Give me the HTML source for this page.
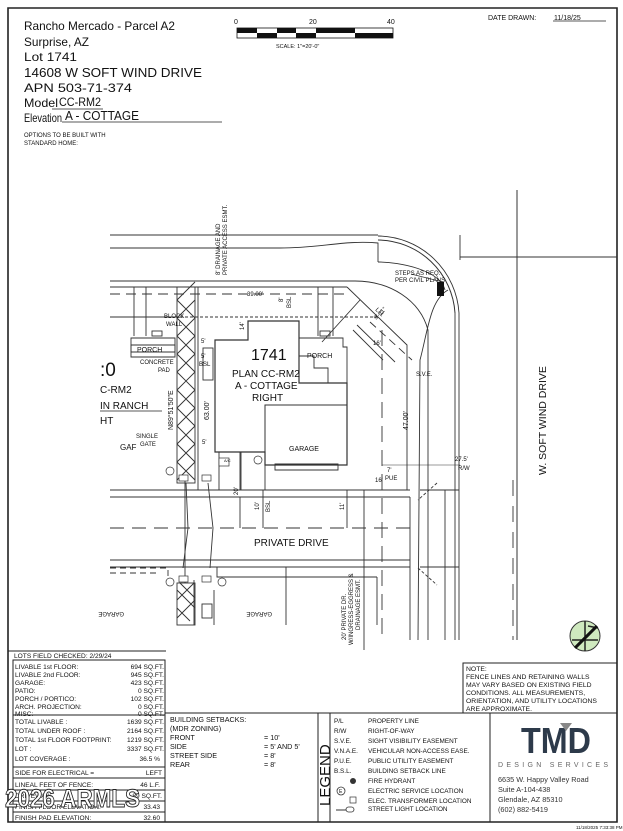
<!DOCTYPE html>
<html><head><meta charset="utf-8"><style>
html,body{margin:0;padding:0;background:#fff}
svg{display:block}
text{font-family:"Liberation Sans",Arial,sans-serif;fill:#111}
</style></head><body>
<svg width="623" height="831" viewBox="0 0 623 831" xmlns="http://www.w3.org/2000/svg">
<rect x="0" y="0" width="623" height="831" fill="#fff"/>
<path d="M8 8 H617 V822 H8 Z" fill="none" stroke="#222" stroke-width="1.6"/>
<g font-size="12">
<text x="24" y="30" textLength="151" lengthAdjust="spacingAndGlyphs">Rancho Mercado - Parcel A2</text>
<text x="24" y="46" textLength="65" lengthAdjust="spacingAndGlyphs">Surprise, AZ</text>
<text x="24" y="61" textLength="53" lengthAdjust="spacingAndGlyphs">Lot  1741</text>
<text x="24" y="77" font-size="13" textLength="178" lengthAdjust="spacingAndGlyphs">14608 W SOFT WIND DRIVE</text>
<text x="24" y="92" textLength="108" lengthAdjust="spacingAndGlyphs">APN    503-71-374</text>
<text x="24" y="107" textLength="34" lengthAdjust="spacingAndGlyphs">Model</text><text x="59" y="106" textLength="42" lengthAdjust="spacingAndGlyphs">CC-RM2</text>
<text x="24" y="122" textLength="38" lengthAdjust="spacingAndGlyphs">Elevation</text><text x="65" y="120" font-size="13" textLength="74" lengthAdjust="spacingAndGlyphs">A - COTTAGE</text>
</g>
<line x1="52" y1="109" x2="103" y2="109" stroke="#222" stroke-width="0.8"/>
<line x1="62" y1="122" x2="222" y2="122" stroke="#222" stroke-width="0.8"/>
<text x="24" y="137" font-size="6">OPTIONS TO BE BUILT WITH</text>
<text x="24" y="145" font-size="6">STANDARD HOME:</text>
<g font-size="7">
<text x="234" y="24">0</text><text x="309" y="24">20</text><text x="387" y="24">40</text>
<text x="276" y="48" font-size="5.5">SCALE: 1"=20'-0"</text>
</g>
<rect x="237" y="28" width="156" height="10" fill="#fff" stroke="#111" stroke-width="0.8"/>
<g fill="#111">
<rect x="237" y="28" width="20" height="5"/><rect x="257" y="33" width="20" height="5"/>
<rect x="277" y="28" width="19" height="5"/><rect x="296" y="33" width="20" height="5"/>
<rect x="316" y="28" width="39" height="5"/><rect x="355" y="33" width="38" height="5"/>
</g>
<text x="488" y="20" font-size="7">DATE DRAWN: </text>
<text x="554" y="20" font-size="7">11/18/25</text>
<line x1="553" y1="21" x2="606" y2="21" stroke="#222" stroke-width="0.7"/>

<g stroke="#333" fill="none" stroke-width="0.9">
<line x1="110" y1="235" x2="378" y2="235"/>
<path d="M378 240 A78 78 0 0 1 455 313" stroke-width="1"/>
<path d="M378 236 A82 82 0 0 1 459 313"/>
<line x1="459" y1="313" x2="459" y2="640"/>
<line x1="455" y1="313" x2="455" y2="640"/>
<line x1="460" y1="235" x2="460" y2="260"/>
<line x1="460" y1="257" x2="617" y2="257"/>
<line x1="517" y1="190" x2="517" y2="640" stroke-width="1"/>
<line x1="513" y1="480" x2="513" y2="640" stroke-dasharray="16 10"/>
<path d="M110 248 H280 C320 248 345 240 378 243 V262"/>
<path d="M110 281 H355 C390 281 420 300 428 330 L428 640" />
<path d="M378 262 C400 262 440 270 445 290"/>
<path d="M448 290 C430 300 428 330 420 360 L418 640"/>
<line x1="110" y1="287" x2="347" y2="287"/>
<line x1="110" y1="294" x2="350" y2="294" stroke-dasharray="10 6"/>
<line x1="110" y1="317" x2="380" y2="317" stroke-dasharray="3 2"/>
<path d="M347 287 L407 345 L407 490"/>
<line x1="382" y1="330" x2="382" y2="640" stroke-dasharray="16 8"/>
<line x1="370" y1="322" x2="412" y2="360" stroke-dasharray="8 5"/>
<line x1="353" y1="330" x2="383" y2="360"/>
<line x1="357" y1="325" x2="395" y2="362"/>
<line x1="322" y1="342" x2="360" y2="300"/>
<path d="M215 340 H248 V321 H299 V338 H299 V383 H347 V465 H265 V452 H215 Z" stroke-width="1.2"/>
<rect x="265" y="405" width="82" height="60" stroke-width="1"/>
<path d="M299 338 H343 V347 H347 V383 H328 V368 H314 V356 H299 Z"/>
<path d="M275 464 H338 V470 H275 Z"/>
<rect x="240" y="452" width="25" height="38"/>
<rect x="219" y="452" width="22" height="38"/>
<path d="M131 338 H175 V352 H131 Z"/><path d="M131 345 H175 V357 H131 Z"/>
<path d="M134 287 V336 M146 287 V336 M318 287 V336 M333 287 V336"/>
<rect x="152" y="331" width="10" height="5"/>
<rect x="320" y="331" width="10" height="5"/>
<path d="M110 317 H175"/>
<rect x="177" y="287" width="18" height="196"/>
<path d="M177 300 L195 318 M177 318 L195 336 M177 336 L195 354 M177 354 L195 372 M177 372 L195 390 M177 390 L195 408 M177 408 L195 426 M177 426 L195 444 M177 444 L195 462 M177 462 L195 480 M177 300 L195 282 M177 318 L195 300 M177 336 L195 318 M177 354 L195 336 M177 372 L195 354 M177 390 L195 372 M177 408 L195 390 M177 426 L195 408 M177 444 L195 426 M177 462 L195 444 M177 480 L195 462"/>
<rect x="177" y="583" width="18" height="42"/>
<path d="M177 590 L195 608 M177 608 L190 621 M180 583 L195 598 M177 600 L194 583 M177 618 L195 600"/>
<line x1="198" y1="287" x2="198" y2="490"/>
<rect x="203" y="348" width="10" height="32"/>
<line x1="110" y1="490" x2="410" y2="490" stroke-width="1"/>
<line x1="110" y1="497" x2="410" y2="497"/>
<line x1="110" y1="528" x2="410" y2="528" stroke-dasharray="14 8" stroke-width="1.1"/>
<line x1="110" y1="560" x2="410" y2="560"/>
<line x1="110" y1="567" x2="410" y2="567"/>
<path d="M110 568 H168 V577 M110 573 H160" stroke-dasharray="6 4"/>
<path d="M217 567 V577 H286 V567"/>
<path d="M286 577 V625 M377 577 H377 V625 M286 577 H377"/>
<line x1="194" y1="580" x2="194" y2="625"/>
<line x1="214" y1="590" x2="214" y2="625"/>
<rect x="202" y="604" width="10" height="14"/>
<line x1="185" y1="480" x2="185" y2="583"/>
<path d="M186 483 L188 528 L183 568 M208 483 L213 528 L210 568"/>
<line x1="240" y1="497" x2="240" y2="528"/>
<line x1="263" y1="490" x2="263" y2="528"/>
<line x1="347" y1="490" x2="347" y2="528"/>
<line x1="364" y1="490" x2="364" y2="650"/>
<line x1="410" y1="497" x2="410" y2="640"/>
<line x1="445" y1="490" x2="445" y2="640"/>
<line x1="459" y1="490" x2="420" y2="490"/>
<line x1="420" y1="567" x2="459" y2="567"/>
<line x1="418" y1="568" x2="437" y2="585" stroke-dasharray="3 2"/>
<line x1="437" y1="483" x2="418" y2="500" stroke-dasharray="3 2"/>
<line x1="411" y1="274" x2="443" y2="282"/>
<line x1="382" y1="465" x2="460" y2="465" stroke-width="0.6"/>
</g>
<rect x="437" y="282" width="7" height="14" fill="#111"/>
<g stroke="#333" fill="#fff" stroke-width="0.7">
<rect x="179" y="475" width="9" height="6"/><rect x="202" y="475" width="9" height="6"/>
<rect x="179" y="576" width="9" height="6"/><rect x="202" y="576" width="9" height="6"/>
<circle cx="170" cy="471" r="4"/><circle cx="258" cy="460" r="4"/>
<circle cx="170" cy="582" r="4"/><circle cx="222" cy="582" r="4"/>
<rect x="219" y="458" width="10" height="8"/>
</g>
<g font-size="6">
<text x="164" y="318">BLOCK</text><text x="166" y="326">WALL</text>
<text x="140" y="364">CONCRETE</text><text x="158" y="372">PAD</text>
<text x="136" y="438">SINGLE</text><text x="140" y="446">GATE</text>
<text x="395" y="275">STEPS AS REQ.</text><text x="395" y="282">PER CIVIL PLANS</text>
<text x="416" y="376">S.V.E.</text>
<text x="247" y="296">39.00'</text>
<text x="201" y="343">5'</text><text x="201" y="358">5'</text>
<text x="199" y="366">BSL</text>
<text x="202" y="444">5'</text>
<text x="373" y="345">16'</text>
<text x="375" y="482">16'</text>
<text x="387" y="472">7'</text><text x="385" y="480">PUE</text>
<text x="455" y="461">27.5'</text><text x="458" y="470">R/W</text>
<text x="224" y="462" font-size="4">A/C</text>
</g>
<g font-size="6">
<text transform="translate(220,275) rotate(-90)">8' DRAINAGE AND</text>
<text transform="translate(227,275) rotate(-90)">PRIVATE ACCESS ESMT.</text>
<text transform="translate(291,308) rotate(-90)">BSL</text>
<text transform="translate(283,302) rotate(-90)">8'</text>
<text transform="translate(244,330) rotate(-90)">14'</text>
<text transform="translate(209,420) rotate(-90)" font-size="7">63.00'</text>
<text transform="translate(173,430) rotate(-90)" font-size="7">N89°51'50"E</text>
<text transform="translate(408,430) rotate(-90)" font-size="7">47.00'</text>
<text transform="translate(238,495) rotate(-90)">20'</text>
<text transform="translate(259,510) rotate(-90)">10'</text>
<text transform="translate(270,512) rotate(-90)">BSL</text>
<text transform="translate(344,510) rotate(-90)">11'</text>
<text transform="translate(346,640) rotate(-90)">20' PRIVATE DR.</text>
<text transform="translate(353,645) rotate(-90)">W/INGRESS-EGGRESS &amp;</text>
<text transform="translate(360,630) rotate(-90)">DRAINAGE ESMT.</text>
<text transform="translate(376,320) rotate(-45)">9'-11"</text>
<text transform="translate(375,310) rotate(45)">L11</text>
<text transform="translate(124,612) rotate(180)">GARAGE</text>
<text transform="translate(272,612) rotate(180)">GARAGE</text>
</g>
<text x="251" y="360" font-family="Liberation Serif,serif" font-size="16">1741</text>
<text x="232" y="377" font-size="10">PLAN CC-RM2</text>
<text x="235" y="389" font-size="10">A - COTTAGE</text>
<text x="252" y="401" font-size="10">RIGHT</text>
<text x="289" y="451" font-size="7">GARAGE</text>
<text x="307" y="358" font-size="7">PORCH</text>
<text x="137" y="352" font-size="7">PORCH</text>
<text x="254" y="546" font-size="10">PRIVATE DRIVE</text>
<text x="100" y="376" font-size="19">:0</text>
<text x="100" y="393" font-size="10">C-RM2</text>
<text x="100" y="409" font-size="10">IN RANCH</text>
<line x1="100" y1="411" x2="162" y2="411" stroke="#222" stroke-width="0.8"/>
<text x="100" y="424" font-size="10">HT</text>
<text x="120" y="450" font-size="8">GAF</text>
<text transform="translate(546,475) rotate(-90)" font-size="10.5">W. SOFT WIND DRIVE</text>
<circle cx="585" cy="636" r="15" fill="#cfe9bf" stroke="#333" stroke-width="1"/>
<path d="M575 647 L596 626 M588 626 L598 628 M572 640 L598 640 M585 621 V651" stroke="#222" stroke-width="1.5" fill="none"/>
<path d="M575 648 L597 626" stroke="#111" stroke-width="3"/>

<g stroke="#222" fill="none" stroke-width="1">
<line x1="8" y1="651" x2="166" y2="651"/>
<rect x="13" y="660" width="152" height="55"/>
<rect x="13" y="715" width="152" height="52"/>
<rect x="13" y="767" width="152" height="11"/>
<rect x="13" y="778" width="152" height="34"/>
<line x1="13" y1="790" x2="165" y2="790"/><line x1="13" y1="801" x2="165" y2="801"/>
<rect x="13" y="812" width="152" height="10"/>
<rect x="165" y="713" width="153" height="109"/>
<rect x="318" y="713" width="172" height="109"/>
<line x1="330" y1="713" x2="330" y2="822"/>
<rect x="490" y="713" width="127" height="109"/>
<rect x="463" y="663" width="154" height="50"/>
</g>
<g font-size="6.6">
<text x="14" y="658">LOTS FIELD CHECKED:  2/29/24</text>
<text x="15" y="669">LIVABLE 1st FLOOR:</text><text x="164" y="669" text-anchor="end">694  SQ.FT.</text>
<text x="15" y="677">LIVABLE 2nd FLOOR:</text><text x="164" y="677" text-anchor="end">945  SQ.FT.</text>
<text x="15" y="685">GARAGE:</text><text x="164" y="685" text-anchor="end">423  SQ.FT.</text>
<text x="15" y="693">PATIO:</text><text x="164" y="693" text-anchor="end">0  SQ.FT.</text>
<text x="15" y="701">PORCH  /  PORTICO:</text><text x="164" y="701" text-anchor="end">102  SQ.FT.</text>
<text x="15" y="709">ARCH.  PROJECTION:</text><text x="164" y="709" text-anchor="end">0  SQ.FT.</text>
<text x="15" y="716">MISC:</text><text x="164" y="716" text-anchor="end">0  SQ.FT.</text>
<text x="15" y="724">TOTAL  LIVABLE  :</text><text x="164" y="724" text-anchor="end">1639  SQ.FT.</text>
<text x="15" y="733">TOTAL  UNDER  ROOF  :</text><text x="164" y="733" text-anchor="end">2164  SQ.FT.</text>
<text x="15" y="742">TOTAL  1st  FLOOR  FOOTPRINT:</text><text x="164" y="742" text-anchor="end">1219  SQ.FT.</text>
<text x="15" y="751">LOT  :</text><text x="164" y="751" text-anchor="end">3337  SQ.FT.</text>
<text x="15" y="761">LOT  COVERAGE  :</text><text x="160" y="761" text-anchor="end">36.5  %</text>
<text x="15" y="775">SIDE  FOR  ELECTRICAL  =</text><text x="162" y="775" text-anchor="end">LEFT</text>
<text x="15" y="787">LINEAL  FEET  OF  FENCE:</text><text x="160" y="787" text-anchor="end">46  L.F.</text>
<text x="15" y="798">DRIVEWAY:</text><text x="162" y="798" text-anchor="end">89  SQ.FT.</text>
<text x="15" y="809">FINISH  FLOOR  ELEVATION:</text><text x="160" y="809" text-anchor="end">33.43</text>
<text x="15" y="820">FINISH  PAD  ELEVATION:</text><text x="160" y="820" text-anchor="end">32.60</text>
</g>
<text x="5" y="807" font-size="25" font-weight="bold" stroke="#222" stroke-width="0.9" style="fill:#fff" textLength="135" lengthAdjust="spacingAndGlyphs">2026 ARMLS</text>
<g font-size="7.2">
<text x="170" y="722">BUILDING SETBACKS:</text>
<text x="170" y="731">(MDR ZONING)</text>
<text x="170" y="740">FRONT</text><text x="264" y="740">= 10'</text>
<text x="170" y="749">SIDE</text><text x="264" y="749">= 5' AND 5'</text>
<text x="170" y="758">STREET SIDE</text><text x="264" y="758">= 8'</text>
<text x="170" y="767">REAR</text><text x="264" y="767">= 8'</text>
</g>
<text transform="translate(330,806) rotate(-90)" font-size="15">LEGEND</text>
<g font-size="6.4">
<text x="334" y="723">P/L</text><text x="368" y="723">PROPERTY LINE</text>
<text x="334" y="733">R/W</text><text x="368" y="733">RIGHT-OF-WAY</text>
<text x="334" y="743">S.V.E.</text><text x="368" y="743">SIGHT VISIBILITY EASEMENT</text>
<text x="334" y="753">V.N.A.E.</text><text x="368" y="753">VEHICULAR NON-ACCESS EASE.</text>
<text x="334" y="763">P.U.E.</text><text x="368" y="763">PUBLIC UTILITY EASEMENT</text>
<text x="334" y="773">B.S.L.</text><text x="368" y="773">BUILDING SETBACK LINE</text>
<text x="368" y="783">FIRE HYDRANT</text>
<text x="368" y="793">ELECTRIC SERVICE LOCATION</text>
<text x="368" y="803">ELEC. TRANSFORMER LOCATION</text>
<text x="368" y="811">STREET LIGHT LOCATION</text>
</g>
<circle cx="353" cy="781" r="3" fill="#333"/>
<circle cx="341" cy="791" r="4" fill="none" stroke="#333" stroke-width="0.8"/>
<text x="339" y="793" font-size="5">E</text>
<rect x="350" y="797" width="6" height="6" fill="none" stroke="#333" stroke-width="0.7"/>
<path d="M336 810 H346" stroke="#333"/><rect x="346" y="807" width="8" height="5" rx="2.5" fill="none" stroke="#333" stroke-width="0.8"/>
<g font-size="6.8">
<text x="466" y="671">NOTE:</text>
<text x="466" y="679">FENCE  LINES  AND  RETAINING  WALLS</text>
<text x="466" y="687">MAY  VARY  BASED  ON  EXISTING  FIELD</text>
<text x="466" y="695">CONDITIONS.   ALL  MEASUREMENTS,</text>
<text x="466" y="703">ORIENTATION,  AND  UTILITY  LOCATIONS</text>
<text x="466" y="711">ARE  APPROXIMATE.</text>
</g>
<text x="521" y="753" font-size="36" font-weight="bold" style="fill:#2d3a4a" textLength="70" lengthAdjust="spacingAndGlyphs">TMD</text>
<path d="M560 723 L572 723 L566 731 Z" fill="#888"/>
<text x="498" y="767" font-size="7" style="fill:#666" textLength="110" lengthAdjust="spacing">DESIGN SERVICES</text>
<g font-size="7.3">
<text x="498" y="782" style="fill:#333">6635 W. Happy Valley Road</text>
<text x="498" y="792" style="fill:#333">Suite A-104-438</text>
<text x="498" y="802" style="fill:#333">Glendale, AZ 85310</text>
<text x="498" y="812" style="fill:#333">(602) 882-5419</text>
</g>
<text x="576" y="829" font-size="4.5">11/18/2025 7:33:38 PM</text>
</svg>
</body></html>
